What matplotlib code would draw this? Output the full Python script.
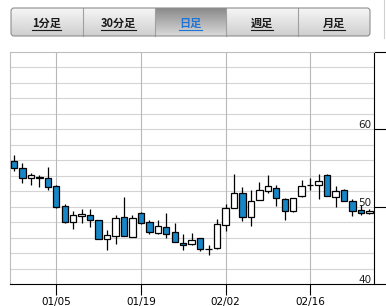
"""Daily candlestick chart with tab bar
"""
import numpy as np
import matplotlib.pyplot as plt
from matplotlib.patches import FancyBboxPatch

W, H = 386, 306

# tab bar
tab_labels = ['1分足', '30分足', '日足', '週足', '月足']
active_tab = 2

# daily prices (oldest first)
opens = [55.95, 54.99, 53.74, 53.87, 53.74, 52.68, 50.12, 48.04, 48.77, 48.95,
         48.25, 45.84, 46.23, 48.69, 46.14, 49.16, 48.04, 46.62, 47.43, 46.75,
         45.36, 45.19, 45.97, 44.55, 44.67, 47.66, 49.86, 51.71, 48.69, 50.89,
         52.01, 52.40, 50.97, 49.41, 51.36, 52.86, 52.84, 54.04, 51.28, 52.14,
         50.71, 49.51, 49.16]
closes = [55.04, 53.74, 54.04, 53.74, 52.58, 49.99, 48.04, 48.95, 49.08, 48.30,
          45.84, 46.36, 48.51, 46.23, 48.51, 47.91, 46.70, 47.53, 46.53, 45.45,
          45.10, 45.71, 44.55, 44.50, 47.78, 49.86, 51.71, 48.69, 50.76, 52.14,
          52.71, 51.15, 49.41, 51.06, 52.66, 52.80, 53.26, 51.36, 52.06, 50.71,
          49.41, 49.21, 49.47]
highs = [56.63, 55.69, 54.39, 54.04, 55.17, 52.75, 50.38, 49.42, 49.73, 49.64,
         48.30, 46.96, 48.95, 51.28, 48.95, 49.25, 48.34, 48.34, 49.17, 47.91,
         46.53, 46.62, 46.00, 45.10, 48.43, 50.38, 54.26, 52.58, 52.10, 53.23,
         54.04, 52.75, 51.15, 51.15, 53.43, 53.65, 54.17, 54.26, 52.66, 52.32,
         51.02, 50.19, 49.64]
lows = [54.60, 53.10, 52.78, 52.53, 52.14, 49.86, 47.91, 47.05, 47.91, 47.34,
        45.79, 44.37, 45.19, 46.18, 46.05, 47.82, 46.53, 46.53, 45.97, 45.40,
        44.46, 45.06, 44.29, 43.75, 44.55, 46.83, 49.86, 48.12, 47.56, 50.89,
        51.80, 50.08, 48.25, 49.29, 51.28, 52.14, 51.02, 51.36, 49.94, 50.67,
        48.77, 48.96, 49.08]

date_ticks = [5, 15, 25, 35]
date_labels = ['01/05', '01/19', '02/02', '02/16']
price_ticks = [40, 50, 60, 70]
price_labels = [40, 50, 60]

blue = '#1786c6'

fig = plt.figure(figsize=(W / 100, H / 100), dpi=100)

# ---- tab bar, drawn in pixel coordinates ----
tb = fig.add_axes([0, 0, 1, 1], zorder=0)
tb.set_xlim(0, W)
tb.set_ylim(H, 0)
tb.axis('off')

x0, x1, y0, y1 = 11, 370, 8, 36
edges = np.linspace(x0, x1, len(tab_labels) + 1)
frame = FancyBboxPatch((x0, y0), x1 - x0, y1 - y0,
                       boxstyle='round,pad=0,rounding_size=3',
                       fc='none', ec='#8e8e8e', lw=0.8, zorder=5)
tb.add_patch(frame)


def grad(top, bot, n=40):
    top = np.array(plt.matplotlib.colors.to_rgb(top))
    bot = np.array(plt.matplotlib.colors.to_rgb(bot))
    t = np.linspace(0, 1, n)[:, None]
    return (top * (1 - t) + bot * t)[:, None, :]


for i, lab in enumerate(tab_labels):
    a, b = edges[i], edges[i + 1]
    if i == active_tab:
        g = grad('#8a8a8a', '#dadada')
        col = '#1f72d6'
    else:
        g = grad('#f6f6f6', '#cfcfcf')
        col = '#1a1a1a'
    im = tb.imshow(g, extent=(a, b, y1, y0), aspect='auto', zorder=1)
    im.set_clip_path(frame)
    if i > 0:
        tb.plot([a, a], [y0, y1], color='#a0a0a0', lw=0.8, zorder=4)
    t = tb.text((a + b) / 2, 23.5, lab, ha='center', va='center', fontsize=8,
                fontweight='bold', color=col,
                family=['Noto Sans CJK JP', 'DejaVu Sans'], zorder=6)
    fig.canvas.draw()
    bb = t.get_window_extent()
    tb.plot([bb.x0, bb.x1], [29.5, 29.5], color=col, lw=0.8, zorder=6)

tb.plot([383.5, 383.5], [0, 38], color='#d0d0d0', lw=0.8)

# ---- candlestick chart ----
ax = fig.add_axes([10 / W, (H - 284) / H, 364 / W, 232 / H], zorder=2)
ax.set_facecolor('white')

idx = np.arange(len(opens))
o = np.array(opens)
c = np.array(closes)
body_bot = np.minimum(o, c)
body_h = np.maximum(np.abs(c - o), 0.06)
colors = [blue if cc < oo else 'white' for oo, cc in zip(o, c)]

ax.vlines(idx, lows, highs, color='black', lw=0.9, zorder=3)
ax.bar(idx, body_h, bottom=body_bot, width=0.75, color=colors,
       edgecolor='black', linewidth=0.9, zorder=4)

ax.set_xlim(-0.47, 42.55)
ax.set_ylim(40, 70)

for v in np.arange(42, 70, 2):
    ax.axhline(v, color='#d4d4d4', lw=0.8, zorder=1)

ax.set_xticks(date_ticks)
ax.set_xticklabels(date_labels)
ax.grid(axis='x', color='#b8b8b8', lw=0.8, zorder=1)
ax.tick_params(axis='x', direction='out', length=8, width=0.8,
               labelsize=7.5, pad=1, colors='black')

ax.yaxis.set_ticks_position('right')
ax.set_yticks(price_ticks)
ax.tick_params(axis='y', direction='out', length=11, width=0.8,
               labelright=False, labelleft=False)
for v in price_labels:
    ax.text(0.993, v + 0.15, str(v), transform=ax.get_yaxis_transform(),
            ha='right', va='baseline', fontsize=7.5, color='#202020', zorder=5)

ax.spines['bottom'].set_color('black')
ax.spines['right'].set_color('black')
ax.spines['top'].set_color('#bdbdbd')
ax.spines['left'].set_color('#bdbdbd')
for s in ax.spines.values():
    s.set_linewidth(0.8)

plt.savefig('out.png', dpi=100)
